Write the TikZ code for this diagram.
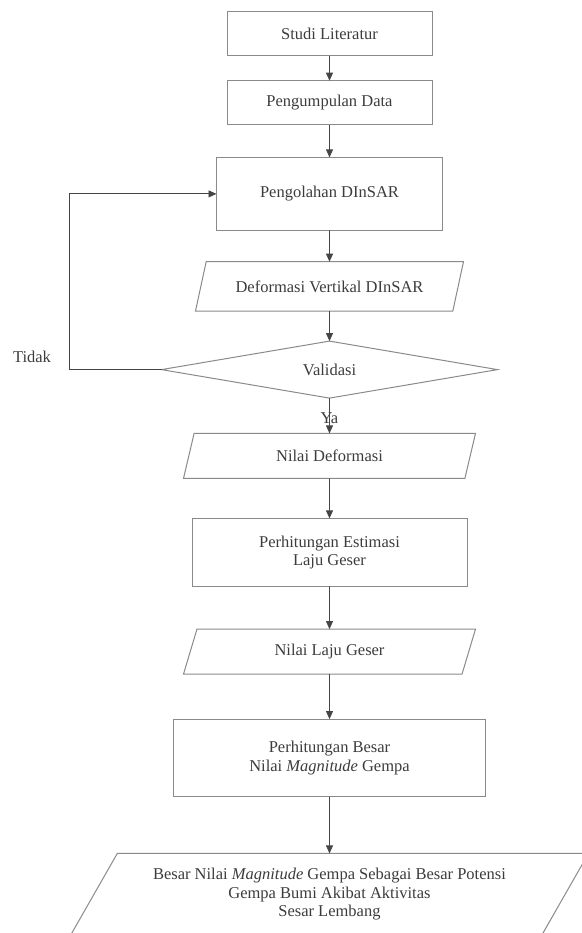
\documentclass[tikz,border=0pt]{standalone}
\usepackage{fontspec}
\setmainfont{Liberation Serif}
\usetikzlibrary{positioning,shapes.geometric,arrows.meta}
\definecolor{framegray}{HTML}{8A8A8A}
\definecolor{arrowgray}{HTML}{454545}
\definecolor{inkgray}{HTML}{3C3C3C}

\begin{document}
\begin{tikzpicture}[
  x=1pt,y=1pt,
  every node/.style={font=\fontsize{16.5}{18.5}\selectfont,text=inkgray},
  box/.style={draw=framegray,line width=1pt,align=center,inner sep=0pt,outer sep=0pt},
  iobox/.style={trapezium,trapezium left angle=48,trapezium right angle=132,
    trapezium stretches body,draw=framegray,line width=1pt,align=center,inner sep=0pt,outer sep=0pt},
  decision/.style={diamond,aspect=5.9,draw=framegray,line width=1pt,inner sep=0pt,outer sep=0pt},
  arr/.style={-{Triangle[width=7pt,length=8pt]},draw=arrowgray,line width=0.8pt}
]
\useasboundingbox (0,0) rectangle (581,-933);

\node[box, minimum width=205pt, minimum height=44pt] (lit) at (329.5,-34) {Studi Literatur};
\node[box, minimum width=205pt, minimum height=44pt, below=24.7pt of lit] (kumpul) {Pengumpulan Data};
\node[box, minimum width=226pt, minimum height=73pt, below=32.7pt of kumpul] (olah) {Pengolahan DInSAR};
\node[iobox, minimum width=268pt, minimum height=49.4pt, below=31.3pt of olah] (vert) {Deformasi Vertikal DInSAR};
\node[decision, minimum width=336pt, minimum height=57pt, below=30pt of vert] (valid) {Validasi};
\node[iobox, minimum width=292pt, minimum height=45pt, below=35.3pt of valid] (nilai) {Nilai Deformasi};
\node[box, minimum width=275pt, minimum height=68pt, below=40pt of nilai] (estim) {Perhitungan Estimasi\\Laju Geser};
\node[iobox, minimum width=292pt, minimum height=45pt, below=42.7pt of estim] (laju) {Nilai Laju Geser};
\node[box, minimum width=312pt, minimum height=77.7pt, below=45pt of laju] (mag) {Perhitungan Besar\\Nilai \textit{Magnitude} Gempa};
\node[iobox, minimum width=518pt, minimum height=82pt, below=56.6pt of mag] (hasil) {Besar Nilai \textit{Magnitude} Gempa Sebagai Besar Potensi\\Gempa Bumi Akibat Aktivitas\\Sesar Lembang};

\node (tidak) at (32,-357) {Tidak};
\coordinate (balik) at (69.3,0);

\draw[arr] (lit) -- (kumpul);
\draw[arr] (kumpul) -- (olah);
\draw[arr] (olah) -- (vert);
\draw[arr] (vert) -- (valid);
\draw[arr] (valid) -- (nilai) node[pos=0.57]{Ya};
\draw[arr] (nilai) -- (estim);
\draw[arr] (estim) -- (laju);
\draw[arr] (laju) -- (mag);
\draw[arr] (mag) -- (hasil);
\draw[arr] (valid.west) -- (valid.west -| balik) |- (olah.west);
\end{tikzpicture}
\end{document}
